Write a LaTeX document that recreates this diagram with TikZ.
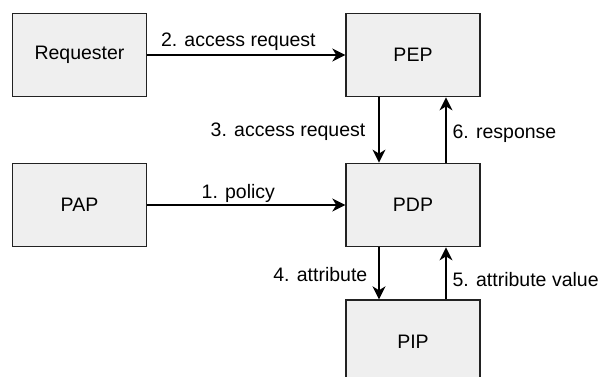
\documentclass[tikz,border=0pt]{standalone}
\usepackage{fontspec}
\setmainfont{Liberation Sans}
\usetikzlibrary{arrows.meta}
\definecolor{boxfill}{HTML}{EFEFEF}
\definecolor{boxline}{HTML}{222222}
\tikzset{
  blk/.style={draw=boxline, fill=boxfill, line width=1.4pt, minimum width=134pt, minimum height=83.4pt, inner sep=0pt, font=\fontsize{19.5}{22}\selectfont},
  conn/.style={line width=1.3pt, -{Stealth[length=13pt, width=13pt, inset=4pt]}},
  lbl/.style={inner sep=0pt, font=\fontsize{19.5}{22}\selectfont}
}
\begin{document}
\begin{tikzpicture}[x=1pt, y=-1pt]
\useasboundingbox (0,0) rectangle (600,377);
\clip (0,0) rectangle (600,377);
\node[blk] (req) at (79.5,55) {Requester};
\node[blk] (pep) at (413,55) {PEP};
\node[blk] (pap) at (79.5,205) {PAP};
\node[blk] (pdp) at (413,205) {PDP};
\node[blk] (pip) at (413,341.7) {PIP};
\draw[conn] (req.east) -- node[lbl, pos=0.46, yshift=13pt] {2. access request} (pep.west);
\draw[conn] (pap.east) -- node[lbl, pos=0.46, yshift=12pt] {1. policy} (pdp.west);
\coordinate (pepA) at ([xshift=-34pt]pep.south);
\coordinate (pdpA) at ([xshift=-34pt]pdp.north);
\coordinate (pepB) at ([xshift=33pt]pep.south);
\coordinate (pdpB) at ([xshift=33pt]pdp.north);
\draw[conn] (pepA) -- node[lbl, pos=0.52, anchor=east, xshift=-13pt] {3. access request} (pdpA);
\draw[conn] (pdpB) -- node[lbl, pos=0.44, anchor=west, xshift=6pt] {6. response} (pepB);
\coordinate (pdpC) at ([xshift=-34pt]pdp.south);
\coordinate (pipC) at ([xshift=-34pt]pip.north);
\coordinate (pdpD) at ([xshift=33pt]pdp.south);
\coordinate (pipD) at ([xshift=33pt]pip.north);
\draw[conn] (pdpC) -- node[lbl, pos=0.53, anchor=east, xshift=-11pt] {4. attribute} (pipC);
\draw[conn] (pipD) -- node[lbl, pos=0.39, anchor=west, xshift=6pt] {5. attribute value} (pdpD);
\end{tikzpicture}
\end{document}
